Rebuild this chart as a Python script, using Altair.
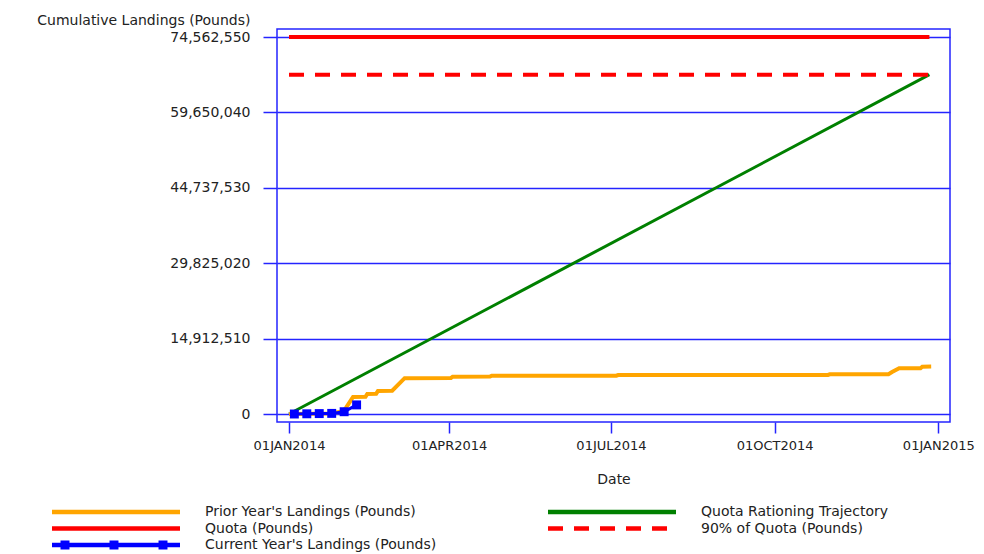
import altair as alt
import pandas as pd

FONT = "DejaVu Sans"
FRAME = "#2424ff"
TEXT = "#222222"

# ---------------- data ----------------
series_names = [
    "Prior Year's Landings (Pounds)",
    "Quota Rationing Trajectory",
    "Quota (Pounds)",
    "90% of Quota (Pounds)",
    "Current Year's Landings (Pounds)",
]
series_colors = ["#ffa500", "#008000", "#ff0000", "#ff0000", "#0000ff"]

quota_dates = ["2014-01-01", "2014-12-27"]
quota_values = [74562550, 74562550]
quota90_values = [67106295, 67106295]

trajectory_dates = ["2014-01-01", "2014-12-27"]
trajectory_values = [0, 67106295]

prior_dates = [
    "2014-01-01", "2014-01-24", "2014-01-31", "2014-02-02", "2014-02-06",
    "2014-02-13", "2014-02-14", "2014-02-19", "2014-02-20", "2014-02-28",
    "2014-03-07", "2014-04-02", "2014-04-03", "2014-04-24", "2014-04-25",
    "2014-07-04", "2014-07-05", "2014-10-31", "2014-11-01", "2014-12-04",
    "2014-12-06", "2014-12-10", "2014-12-22", "2014-12-23", "2014-12-28",
]
prior_values = [
    0, 100000, 500000, 1200000, 3360000,
    3400000, 3960000, 3980000, 4550000, 4600000,
    7080000, 7100000, 7380000, 7400000, 7570000,
    7580000, 7710000, 7720000, 7850000, 7870000,
    8300000, 9040000, 9060000, 9360000, 9380000,
]

current_dates = ["2014-01-04", "2014-01-11", "2014-01-18", "2014-01-25",
                 "2014-02-01", "2014-02-08"]
current_values = [0, 40000, 80000, 120000, 450000, 1800000]

y_ticks = [0, 14912510, 29825020, 44737530, 59650040, 74562550]
x_ticks = [(2014, 1), (2014, 4), (2014, 7), (2014, 10), (2015, 1)]

# ---------------- table ----------------
rows = []
for d, v in zip(prior_dates, prior_values):
    rows.append({"date": d, "value": v, "series": series_names[0]})
for d, v in zip(trajectory_dates, trajectory_values):
    rows.append({"date": d, "value": v, "series": series_names[1]})
for d, v in zip(quota_dates, quota_values):
    rows.append({"date": d, "value": v, "series": series_names[2]})
for d, v in zip(quota_dates, quota90_values):
    rows.append({"date": d, "value": v, "series": series_names[3]})
for d, v in zip(current_dates, current_values):
    rows.append({"date": d, "value": v, "series": series_names[4]})
df = pd.DataFrame(rows)

# ---------------- scales / axes ----------------
x_enc = alt.X(
    "date:T",
    scale=alt.Scale(
        type="utc",
        domain=[
            alt.DateTime(year=2013, month=12, date=25, hours=6, utc=True),
            alt.DateTime(year=2015, month=1, date=7, hours=14, utc=True),
        ],
        nice=False,
    ),
    axis=alt.Axis(
        values=[alt.DateTime(year=y, month=m, date=1, utc=True) for y, m in x_ticks],
        labelExpr="upper(utcFormat(datum.value, '%d%b%Y'))",
        grid=False,
        domain=False,
        tickColor=FRAME,
        tickSize=11,
        tickWidth=1.5,
        labelPadding=6,
        labelFlush=False,
        labelOverlap=False,
        labelFontSize=13,
        title="Date",
        titlePadding=20,
    ),
)

y_enc = alt.Y(
    "value:Q",
    scale=alt.Scale(domain=[-1582232, 76144782], nice=False, zero=False),
    axis=alt.Axis(
        values=y_ticks,
        format=",d",
        grid=True,
        gridColor=FRAME,
        gridWidth=1.5,
        domain=False,
        tickColor=FRAME,
        tickSize=14,
        tickWidth=1.5,
        labelPadding=13,
        labelFontSize=14,
        title="Cumulative Landings (Pounds)",
        titleAngle=0,
        titleAlign="right",
        titleBaseline="alphabetic",
        titleX=-27,
        titleY=-5,
    ),
)

base = alt.Chart(df)


def only(name):
    return alt.datum.series == name


green = base.transform_filter(only(series_names[1])).mark_line(
    color="#008000", strokeWidth=3
).encode(x=x_enc, y=y_enc)

orange = base.transform_filter(only(series_names[0])).mark_line(
    color="#ffa500", strokeWidth=4
).encode(x=x_enc, y=y_enc)

red = base.transform_filter(only(series_names[2])).mark_line(
    color="#ff0000", strokeWidth=4
).encode(x=x_enc, y=y_enc)

red90 = base.transform_filter(only(series_names[3])).mark_line(
    color="#ff0000", strokeWidth=4, strokeDash=[15, 11]
).encode(x=x_enc, y=y_enc)

blue_line = base.transform_filter(only(series_names[4])).mark_line(
    color="#0000ff", strokeWidth=3
).encode(x=x_enc, y=y_enc)

blue_pts = base.transform_filter(only(series_names[4])).mark_point(
    shape="square", filled=True, color="#0000ff", size=80, opacity=1
).encode(x=x_enc, y=y_enc)

# legend symbols as custom paths: symbolSize 256 -> 8 px per path unit,
# symbol left edge at unit -1; legend line is 128 px long.
def u(px):
    return round(px / 8.0 - 1.0, 4)


th = 0.28
solid = f"M{u(0)},{-th}H{u(128)}V{th}H{u(0)}Z"
dash_spans = [(0, 15), (26, 41), (52, 67), (78, 93), (104, 119)]
dashed = "".join(f"M{u(a)},{-th}H{u(b)}V{th}H{u(a)}Z" for a, b in dash_spans)
sq = 0.56
blue_path = solid + "".join(
    f"M{u(c) - sq},{-sq}H{u(c) + sq}V{sq}H{u(c) - sq}Z" for c in (13, 62, 111)
)
legend_paths = [solid, solid, solid, dashed, blue_path]

legend_def = alt.Legend(
    title=None,
    orient="none",
    direction="horizontal",
    legendX=-225,
    legendY=475,
    columns=2,
    columnPadding=111,
    rowPadding=1.5,
    symbolSize=256,
    symbolStrokeWidth=0,
    symbolOpacity=1,
    labelOffset=137,
    labelFont=FONT,
    labelFontSize=14,
    labelColor=TEXT,
    labelLimit=400,
)

legend_layer = base.transform_filter("false").mark_point(
    filled=True, opacity=1, strokeWidth=0
).encode(
    color=alt.Color("series:N", scale=alt.Scale(domain=series_names, range=series_colors), legend=legend_def),
    shape=alt.Shape("series:N", scale=alt.Scale(domain=series_names, range=legend_paths), legend=legend_def),
)

chart = (
    alt.layer(green, orange, red, red90, blue_line, blue_pts, legend_layer)
    .properties(
        width=673,
        height=393,
        padding={"left": 269, "top": 21, "right": 26, "bottom": 132},
        autosize=alt.AutoSizeParams(type="none"),
    )
    .configure_view(stroke=FRAME, strokeWidth=1.5)
    .configure_axis(
        labelFont=FONT,
        labelColor=TEXT,
        titleFont=FONT,
        titleFontSize=14,
        titleFontWeight="normal",
        titleColor=TEXT,
    )
)

chart.save("out.html", embed_options={"renderer": "svg", "actions": False})
